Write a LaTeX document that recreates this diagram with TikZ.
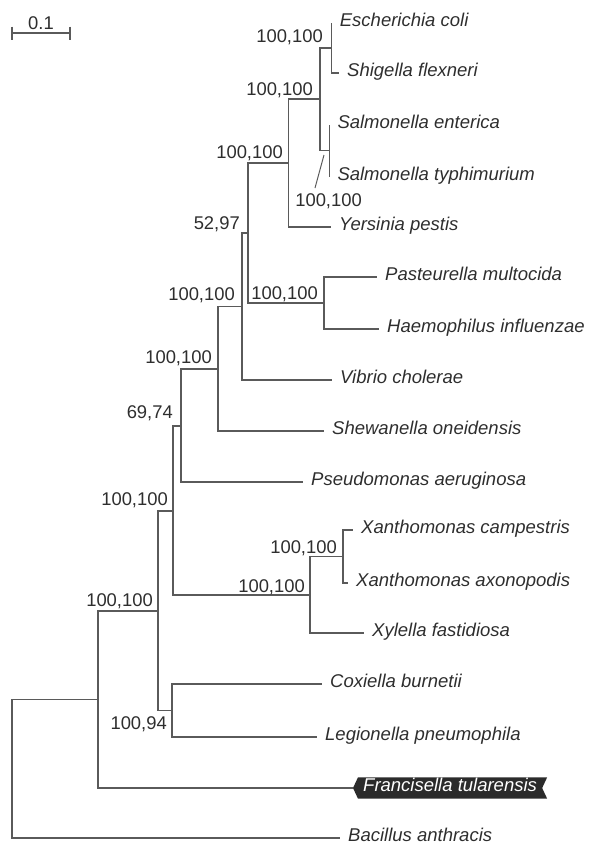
\documentclass[tikz,border=0pt]{standalone}
\usepackage{fontspec}
\setmainfont{Liberation Sans}
\usetikzlibrary{calc,backgrounds}
\definecolor{ln}{HTML}{5A5A5A}
\definecolor{txt}{HTML}{2E2E2E}
\definecolor{boxc}{HTML}{2B2B2B}
\tikzset{
  branch/.style={draw=ln, line width=1.2pt, line join=miter},
  leaf/.style={anchor=west, font=\fontsize{18.5}{22}\selectfont\itshape, text=txt,
    inner xsep=8pt, inner ysep=0pt, text height=10.2pt, text depth=3pt},
  num/.style={anchor=base east, inner sep=0pt, font=\fontsize{18.4}{22}\selectfont, text=txt},
  tag/.style={anchor=west, font=\fontsize{18.5}{22}\selectfont\itshape, text=white,
    inner xsep=5pt, inner ysep=3.9pt, text height=10.2pt, text depth=3pt}
}
\begin{document}
\begin{tikzpicture}[x=1pt,y=-1pt]
\useasboundingbox (0,0) rectangle (589,844);

% scale bar
\coordinate (sbL) at (12,33);
\coordinate (sbR) at (70,33);
\draw[branch] (sbL) -- (sbR);
\draw[branch] ($(sbL)+(0,-6.5)$) -- ($(sbL)+(0,6.5)$);
\draw[branch] ($(sbR)+(0,-6.5)$) -- ($(sbR)+(0,6.5)$);
\node[num, anchor=base] (sblab) at (41,29) {0.1};

% internal nodes
\coordinate (root) at (12,768.5);
\coordinate (nH) at (98,699.5);
\coordinate (nF) at (158,611);
\coordinate (nG) at (172,710.5);
\coordinate (nE) at (173,511);
\coordinate (nD) at (181,426);
\coordinate (nX) at (310,595);
\coordinate (nXan) at (343,556.5);
\coordinate (nC) at (218,369);
\coordinate (nB) at (242,306.5);
\coordinate (nA) at (248,233);
\coordinate (nPast) at (324,303);
\coordinate (nEnt) at (288.3,163);
\coordinate (nES) at (320,99);
\coordinate (nEc) at (331.7,48);
\coordinate (nSal) at (329.3,150.5);

% leaves
\node[leaf] (ecoli)  at (331.7,23) {Escherichia coli};
\node[leaf] (shig)   at (339,73)   {Shigella flexneri};
\node[leaf] (salent) at (329.3,125) {Salmonella enterica};
\node[leaf] (saltyp) at (329.3,177) {Salmonella typhimurium};
\node[leaf] (yers)   at (331,227)  {Yersinia pestis};
\node[leaf] (past)   at (377,277)  {Pasteurella multocida};
\node[leaf] (haem)   at (379,329)  {Haemophilus influenzae};
\node[leaf] (vib)    at (332,380)  {Vibrio cholerae};
\node[leaf] (shew)   at (324,431)  {Shewanella oneidensis};
\node[leaf] (pseudo) at (303,482)  {Pseudomonas aeruginosa};
\node[leaf] (xcamp)  at (353,530)  {Xanthomonas campestris};
\node[leaf] (xaxo)   at (348,583)  {Xanthomonas axonopodis};
\node[leaf] (xyl)    at (364,633)  {Xylella fastidiosa};
\node[leaf] (cox)    at (322,684)  {Coxiella burnetii};
\node[leaf] (leg)    at (317,737)  {Legionella pneumophila};
\node[leaf] (bac)    at (340,838)  {Bacillus anthracis};
\node[tag]  (fran)   at (358,788)  {Francisella tularensis};
\coordinate (frantip) at ($(fran.west)+(-5,0)$);
\begin{scope}[on background layer]
  \fill[boxc] (frantip) -- (fran.north west) -- ($(fran.north east)+(5,0)$)
    -- (fran.east) -- ($(fran.south east)+(5,0)$) -- (fran.south west) -- cycle;
\end{scope}

% branches
\draw[branch] (root) |- (nH);   \draw[branch] (root) |- (bac.west);
\draw[branch] (nH) |- (nF);     \draw[branch] (nH) |- (frantip);
\draw[branch] (nF) |- (nE);     \draw[branch] (nF) |- (nG);
\draw[branch] (nG) |- (cox.west); \draw[branch] (nG) |- (leg.west);
\draw[branch] (nE) |- (nD);     \draw[branch] (nE) |- (nX);
\draw[branch] (nX) |- (nXan);   \draw[branch] (nX) |- (xyl.west);
\draw[branch] (nXan) |- (xcamp.west); \draw[branch] (nXan) |- (xaxo.west);
\draw[branch] (nD) |- (nC);     \draw[branch] (nD) |- (pseudo.west);
\draw[branch] (nC) |- (nB);     \draw[branch] (nC) |- (shew.west);
\draw[branch] (nB) |- (nA);     \draw[branch] (nB) |- (vib.west);
\draw[branch] (nA) |- (nEnt);   \draw[branch] (nA) |- (nPast);
\draw[branch] (nPast) |- (past.west); \draw[branch] (nPast) |- (haem.west);
\draw[branch] (nEnt) |- (nES);  \draw[branch] (nEnt) |- (yers.west);
\draw[branch] (nES) |- (nEc);   \draw[branch] (nES) |- (nSal);
\draw[branch] (nEc) |- (ecoli.west); \draw[branch] (nEc) |- (shig.west);
\draw[branch] (nSal) |- (salent.west); \draw[branch] (nSal) |- (saltyp.west);

% support labels
\node[num] (lEc)   at (323,42.5)  {100,100};
\node[num] (lES)   at (313,95)    {100,100};
\node[num] (lEnt)  at (283,158.5) {100,100};
\node[num] (lSal)  at (362,206.5) {100,100};
\node[num] (lA)    at (240,229)   {52,97};
\node[num] (lPast) at (318,299)   {100,100};
\node[num] (lB)    at (235,300)   {100,100};
\node[num] (lC)    at (212,363.5) {100,100};
\node[num] (lD)    at (173,418.5) {69,74};
\node[num] (lE)    at (168,505)   {100,100};
\node[num] (lXan)  at (337,553.5) {100,100};
\node[num] (lX)    at (305,592)   {100,100};
\node[num] (lF)    at (153,606)   {100,100};
\node[num] (lG)    at (167,729)   {100,94};
\coordinate (s1) at (315,188);
\coordinate (s2) at (324,155);
\draw[draw=ln, line width=1pt] (s1) -- (s2);
\end{tikzpicture}
\end{document}
